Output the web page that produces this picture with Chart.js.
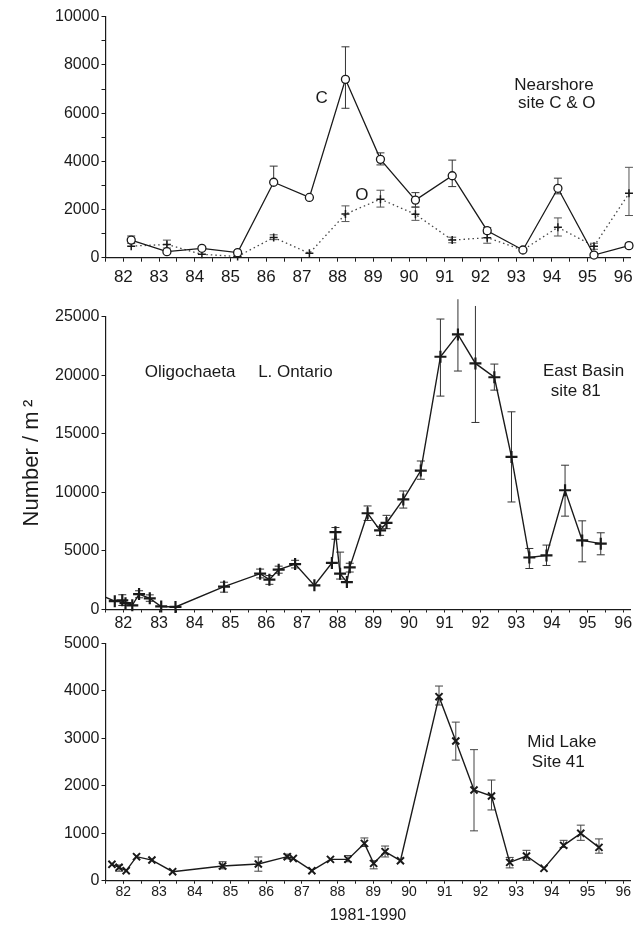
<!DOCTYPE html>
<html>
<head>
<meta charset="utf-8">
<title>Oligochaeta L. Ontario</title>
<script src="https://cdn.jsdelivr.net/npm/chart.js@4.4.0/dist/chart.umd.min.js"></script>
<style>
  body { margin: 0; background: #fff; }
  #wrap { position: relative; width: 644px; height: 925px; overflow: hidden; }
  canvas { position: absolute; left: 0; }
</style>
</head>
<body>
<div id="wrap">
  <canvas id="nearshore" width="644" height="300" style="top:0px"></canvas>
  <canvas id="eastBasin" width="644" height="345" style="top:296px"></canvas>
  <canvas id="midLake" width="644" height="297" style="top:628px"></canvas>
</div>
<script>
// ---- data ----
const yearTicks = [82, 83, 84, 85, 86, 87, 88, 89, 90, 91, 92, 93, 94, 95, 96];

// Nearshore site C & O
const nearYears = [82.22, 83.22, 84.2, 85.2, 86.21, 87.21, 88.22, 89.2, 90.18, 91.21, 92.19, 93.19, 94.17, 95.18, 96.16];
const nearC = [730, 250, 390, 210, 3130, 2500, 7400, 4080, 2390, 3400, 1120, 320, 2880, 110, 500];
const nearO = [480, 550, 140, 50, 840, 180, 1810, 2430, 1800, 730, 830, 320, 1260, 480, 2670];
const nearCErrYears = [82.22, 86.21, 88.22, 89.2, 90.18, 91.21, 92.19, 94.17, 95.18, 96.16];
const nearCErrLow = [600, 3130, 6200, 3850, 2100, 2950, 1000, 2650, 30, 400];
const nearCErrHigh = [900, 3800, 8750, 4350, 2700, 4050, 1250, 3300, 200, 600];
const nearOErrYears = [83.22, 86.21, 88.22, 89.2, 90.18, 91.21, 92.19, 94.17, 95.18, 96.16];
const nearOErrLow = [400, 750, 1500, 2100, 1550, 620, 600, 900, 350, 1750];
const nearOErrHigh = [730, 950, 2150, 2800, 2100, 850, 1050, 1650, 600, 3750];

// East Basin site 81
const eastYears = [81.3, 81.76, 81.97, 82.06, 82.25, 82.44, 82.74, 83.06, 83.46, 84.82, 85.83, 86.09, 86.35, 86.81,
  87.35, 87.84, 87.94, 88.07, 88.26, 88.34, 88.84, 89.19, 89.37, 89.84, 90.33, 90.88, 91.37, 91.86, 92.39, 92.87,
  93.37, 93.85, 94.37, 94.85, 95.37];
const eastValues = [1320, 710, 780, 540, 360, 1320, 950, 260, 220, 1960, 3060, 2550, 3400, 3880,
  2060, 3980, 6600, 3060, 2340, 3600, 8220, 6760, 7390, 9400, 11860, 21580, 23490, 21010, 19830, 13030,
  4440, 4620, 10180, 5900, 5620];
const eastErrYears = [81.97, 82.44, 82.74, 84.82, 85.83, 86.09, 86.35, 86.81, 87.94, 88.07, 88.34, 88.84, 89.19,
  89.37, 89.84, 90.33, 90.88, 91.37, 91.86, 92.39, 92.87, 93.37, 93.85, 94.37, 94.85, 95.37];
const eastErrLow = [340, 1000, 700, 1480, 2700, 2150, 3100, 3550, 6000, 2600, 3200, 7600, 6330,
  6900, 8660, 11120, 18220, 20360, 15970, 18730, 9180, 3500, 3760, 7970, 4070, 4670];
const eastErrHigh = [1260, 1600, 1250, 2330, 3450, 2900, 3700, 4200, 7000, 4900, 3950, 8840, 7100,
  8040, 10120, 12680, 24800, 26490, 25915, 20955, 16880, 5210, 5500, 12320, 7570, 6550];

// Mid Lake Site 41
const midYears = [81.68, 81.88, 82.08, 82.37, 82.8, 83.38, 84.78, 85.78, 86.59, 86.76, 87.28, 87.8, 88.29, 88.75,
  89.01, 89.33, 89.76, 90.84, 91.31, 91.82, 92.31, 92.82, 93.29, 93.78, 94.33, 94.81, 95.32];
const midValues = [344, 281, 211, 506, 435, 190, 309, 351, 506, 470, 211, 449, 449, 786,
  365, 611, 421, 3876, 2942, 1910, 1784, 386, 520, 260, 744, 997, 702];
const midErrYears = [81.88, 84.78, 85.78, 86.59, 88.29, 88.75, 89.01, 89.33, 90.84, 91.31, 91.82, 92.31, 92.82,
  93.29, 94.33, 94.81, 95.32];
const midErrLow = [200, 250, 200, 460, 400, 720, 250, 500, 3700, 2540, 1050, 1490, 270, 430, 700, 850, 580];
const midErrHigh = [330, 400, 500, 560, 530, 900, 420, 730, 4100, 3340, 2760, 2120, 490, 640, 850, 1170, 880];

// ---- helpers ----
Chart.defaults.font.family = "'Liberation Sans', Arial, sans-serif";
Chart.defaults.color = "#111";

const INK = "#1a1a1a";
const AXIS_LEFT = 105.5;
const AXIS_RIGHT = 630.4;
const halfYearTicks = yearTicks.flatMap((y) => [y - 0.5, y]);

const toPoints = (xs, ys) => xs.map((x, i) => ({ x, y: ys[i] }));

const toErrorBars = (xs, low, high) =>
  xs.flatMap((x, i) => [{ x, y: low[i] }, { x, y: high[i] }, { x, y: null }]);

const errorDataset = (data, color) => ({
  data,
  borderColor: color,
  borderWidth: 1,
  pointStyle: "line",
  pointRadius: 4,
  pointBorderWidth: 1,
  pointBorderColor: color,
  spanGaps: false,
  clip: false,
  order: 2,
});

/**
 * Draws free text labels at data coordinates
 */
const notesPlugin = {
  id: "notes",
  afterDatasetsDraw(chart, args, opts) {
    const { ctx, scales } = chart;
    ctx.save();
    ctx.font = "17px 'Liberation Sans', Arial, sans-serif";
    ctx.fillStyle = INK;
    ctx.textAlign = "center";
    ctx.textBaseline = "middle";
    (opts.items || []).forEach((n) => {
      ctx.fillText(n.text, scales.x.getPixelForValue(n.x), scales.y.getPixelForValue(n.y));
    });
    ctx.restore();
  },
};

const makeChart = (id, cfg) => {
  const ctx = document.getElementById(id).getContext("2d");
  return new Chart(ctx, {
    type: "line",
    data: { datasets: cfg.datasets },
    plugins: [notesPlugin],
    options: {
      responsive: false,
      animation: false,
      events: [],
      layout: { padding: { top: cfg.padTop, right: 644 - AXIS_RIGHT, left: 0, bottom: 0 } },
      plugins: {
        legend: { display: false },
        tooltip: { enabled: false },
        notes: { items: cfg.notes },
      },
      scales: {
        x: {
          type: "linear",
          min: 81.5,
          max: 96.2,
          afterBuildTicks: (scale) => {
            scale.ticks = halfYearTicks.map((v) => ({ value: v }));
          },
          afterFit: (scale) => {
            scale.height = cfg.xHeight;
          },
          ticks: {
            autoSkip: false,
            maxRotation: 0,
            padding: cfg.xTickPad,
            font: { size: cfg.xFont },
            color: INK,
            callback: (v) => (Number.isInteger(v) ? String(v) : ""),
          },
          grid: { drawOnChartArea: false, tickLength: cfg.xTickLen, color: INK, lineWidth: 1 },
          border: { color: INK, width: 1.2 },
          title: cfg.xTitle
            ? { display: true, text: cfg.xTitle, font: { size: 16 }, color: INK, padding: { top: 0, bottom: 0 } }
            : { display: false },
        },
        y: {
          min: 0,
          max: cfg.yMax,
          afterFit: (scale) => {
            scale.width = AXIS_LEFT;
          },
          ticks: {
            stepSize: cfg.yStep,
            padding: 2,
            font: { size: 16 },
            color: INK,
            callback: (v) => (v % cfg.yLabelStep === 0 ? String(v) : ""),
          },
          grid: { drawOnChartArea: false, tickLength: 4, color: INK, lineWidth: 1 },
          border: { color: INK, width: 1.2 },
          title: cfg.yTitle
            ? { display: true, text: cfg.yTitle, font: { size: 22 }, color: INK, padding: { top: 18.5, bottom: 0 } }
            : { display: false },
        },
      },
    },
  });
};

const mainClip = { left: 0, top: 8, right: 8, bottom: 8 };

// ---- Nearshore site C & O ----
makeChart("nearshore", {
  padTop: 16.7,
  xHeight: 42.3,
  xFont: 17,
  xTickLen: 4,
  xTickPad: 5,
  yMax: 10000,
  yStep: 1000,
  yLabelStep: 2000,
  notes: [
    { text: "C", x: 87.55, y: 6630 },
    { text: "O", x: 88.68, y: 2600 },
    { text: "Nearshore", x: 94.06, y: 7170 },
    { text: "site C & O", x: 94.14, y: 6410 },
  ],
  datasets: [
    {
      label: "C",
      data: toPoints(nearYears, nearC),
      borderColor: INK,
      borderWidth: 1.3,
      pointStyle: "circle",
      pointRadius: 4,
      pointBackgroundColor: "#fff",
      pointBorderColor: INK,
      pointBorderWidth: 1.3,
      clip: mainClip,
      order: 0,
    },
    {
      label: "O",
      data: toPoints(nearYears, nearO),
      borderColor: "#444",
      borderWidth: 1.3,
      borderDash: [1.5, 3],
      pointStyle: "cross",
      pointRadius: 4,
      pointBorderColor: INK,
      pointBorderWidth: 1.5,
      clip: mainClip,
      order: 1,
    },
    errorDataset(toErrorBars(nearCErrYears, nearCErrLow, nearCErrHigh), "#333"),
    errorDataset(toErrorBars(nearOErrYears, nearOErrLow, nearOErrHigh), "#555"),
  ],
});

// ---- East Basin site 81 ----
makeChart("eastBasin", {
  padTop: 20.7,
  xHeight: 31.5,
  xFont: 16,
  xTickLen: 3,
  xTickPad: 1,
  yMax: 25000,
  yStep: 5000,
  yLabelStep: 5000,
  yTitle: "Number / m\u2009\u00b2",
  notes: [
    { text: "Oligochaeta", x: 83.87, y: 20280 },
    { text: "L. Ontario", x: 86.82, y: 20280 },
    { text: "East Basin", x: 94.89, y: 20300 },
    { text: "site 81", x: 94.67, y: 18600 },
  ],
  datasets: [
    {
      label: "East Basin",
      data: toPoints(eastYears, eastValues),
      borderColor: INK,
      borderWidth: 1.4,
      pointStyle: "cross",
      pointRadius: 6,
      pointBorderColor: INK,
      pointBorderWidth: 2.2,
      clip: mainClip,
      order: 0,
    },
    errorDataset(toErrorBars(eastErrYears, eastErrLow, eastErrHigh), "#333"),
  ],
});

// ---- Mid Lake Site 41 ----
makeChart("midLake", {
  padTop: 15.3,
  xHeight: 44.3,
  xFont: 14,
  xTickLen: 3,
  xTickPad: 0,
  yMax: 5000,
  yStep: 1000,
  yLabelStep: 1000,
  xTitle: "1981-1990",
  notes: [
    { text: "Mid Lake", x: 94.28, y: 2910 },
    { text: "Site 41", x: 94.18, y: 2490 },
  ],
  datasets: [
    {
      label: "Mid Lake",
      data: toPoints(midYears, midValues),
      borderColor: INK,
      borderWidth: 1.4,
      pointStyle: "crossRot",
      pointRadius: 5,
      pointBorderColor: INK,
      pointBorderWidth: 2,
      clip: mainClip,
      order: 0,
    },
    errorDataset(toErrorBars(midErrYears, midErrLow, midErrHigh), "#444"),
  ],
});
</script>
</body>
</html>
